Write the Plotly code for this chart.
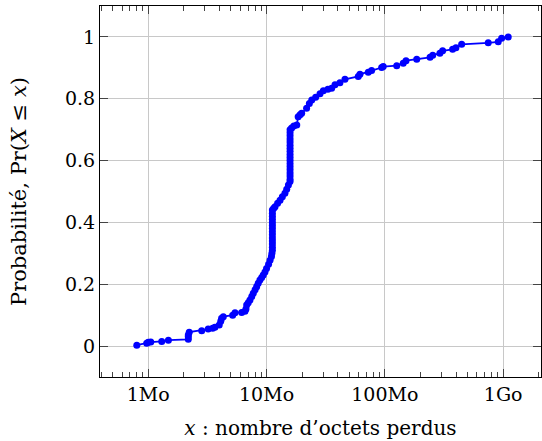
import plotly.graph_objects as go

# Data (size in Mo, cumulative probability)
size_mo = [
    0.80, 0.97, 1.00, 1.05, 1.30, 1.48, 2.18, 2.18, 2.18, 2.22, 2.83, 3.21, 3.50, 3.66, 3.98,
    4.10, 4.17, 4.31, 5.17, 5.41, 6.16, 6.57, 6.70, 6.79, 7.00, 7.24, 7.50, 7.72, 8.00,
    8.25, 8.50, 8.79, 9.10, 9.38, 9.70, 10.0, 10.4, 10.7, 11.0, 11.1,
    11.2, 11.2, 11.2, 11.2, 11.2, 11.2, 11.2, 11.2, 11.2, 11.2, 11.2, 11.2, 11.2, 11.2,
    11.5, 11.8, 12.4, 13.0, 13.6, 14.3, 14.8, 15.3, 15.8,
    15.8, 15.8, 15.8, 15.8, 15.8, 15.8, 15.8, 15.8, 15.8, 15.8, 15.8, 15.8, 15.8, 15.8, 15.8,
    15.8, 15.8,
    16.3, 17.0, 18.0, 18.5, 19.2, 19.8, 21.8, 23.0, 24.1, 26.0, 28.3, 30.2, 33.0, 35.5, 37.9,
    41.7, 46.0, 59.6, 61.6, 72.4, 77.3, 94.0, 96.9, 126, 143, 151, 186, 241, 254, 292, 308,
    374, 399, 446, 748, 909, 971, 1104,
]
prob = [
    0.003, 0.009, 0.012, 0.013, 0.015, 0.019, 0.022, 0.030, 0.036, 0.045, 0.050, 0.055, 0.058, 0.061, 0.068,
    0.080, 0.090, 0.095, 0.100, 0.108, 0.109, 0.113, 0.120, 0.133, 0.140, 0.149, 0.160, 0.171, 0.182,
    0.192, 0.203, 0.214, 0.222, 0.230, 0.240, 0.251, 0.265, 0.278, 0.290, 0.300,
    0.310, 0.320, 0.330, 0.340, 0.350, 0.360, 0.370, 0.380, 0.390, 0.400, 0.410, 0.420, 0.430, 0.440,
    0.446, 0.451, 0.462, 0.472, 0.483, 0.494, 0.507, 0.521, 0.532,
    0.540, 0.550, 0.560, 0.570, 0.580, 0.590, 0.600, 0.610, 0.620, 0.630, 0.640, 0.650, 0.660, 0.670, 0.680,
    0.690, 0.700,
    0.705, 0.712, 0.715, 0.742, 0.748, 0.753, 0.769, 0.785, 0.796, 0.805, 0.816, 0.826, 0.831, 0.834, 0.845,
    0.852, 0.863, 0.872, 0.879, 0.886, 0.891, 0.901, 0.904, 0.907, 0.915, 0.923, 0.928, 0.934, 0.941, 0.947, 0.955,
    0.960, 0.965, 0.976, 0.981, 0.984, 0.996, 1.000,
]

x_tick_vals = [1, 10, 100, 1000]
x_tick_text = ["1Mo", "10Mo", "100Mo", "1Go"]
x_minor_vals = [0.4, 0.5, 0.6, 0.7, 0.8, 0.9, 2, 3, 4, 5, 6, 7, 8, 9,
                20, 30, 40, 50, 60, 70, 80, 90, 200, 300, 400, 500, 600, 700, 800, 900, 2000]
y_tick_vals = [0, 0.2, 0.4, 0.6, 0.8, 1]
y_tick_text = ["0", "0.2", "0.4", "0.6", "0.8", "1"]

FONT = "DejaVu Serif"

fig = go.Figure()
fig.add_trace(go.Scatter(
    x=size_mo, y=prob, mode="lines+markers",
    line=dict(color="#0000ff", width=1.8),
    marker=dict(color="#0000ff", size=7, line=dict(width=0)),
    showlegend=False,
))

fig.update_layout(
    width=542, height=441,
    margin=dict(l=100, r=1, t=6, b=64),
    paper_bgcolor="white", plot_bgcolor="white",
    font=dict(family=FONT, size=19, color="black"),
)
fig.update_xaxes(
    type="log", range=[-0.408, 3.320], automargin=False,
    tickmode="array", tickvals=x_tick_vals, ticktext=x_tick_text,
    ticks="inside", ticklen=8, tickcolor="#444", tickwidth=1,
    showline=True, linecolor="black", linewidth=1, mirror="allticks",
    showgrid=True, gridcolor="#c8c8c8", gridwidth=1,
    zeroline=False,
    minor=dict(tickmode="array", tickvals=x_minor_vals, ticks="inside", ticklen=5,
               tickcolor="#444", tickwidth=1, showgrid=False),
    tickfont=dict(family=FONT, size=19),
    title=dict(text="<i>x</i> : nombre d\u2019octets perdus", font=dict(family=FONT, size=20), standoff=17),
)
fig.update_yaxes(
    range=[-0.1, 1.1], automargin=False,
    tickmode="array", tickvals=y_tick_vals, ticktext=y_tick_text,
    ticks="inside", ticklen=8, tickcolor="#444", tickwidth=1,
    showline=True, linecolor="black", linewidth=1, mirror="allticks",
    showgrid=True, gridcolor="#c8c8c8", gridwidth=1,
    zeroline=False,
    tickfont=dict(family=FONT, size=19),
    title=dict(text="Probabilité, Pr(<i>X</i> \u2264 <i>x</i>)", font=dict(family=FONT, size=21), standoff=32),
)

fig.write_html("out.html", config={"displayModeBar": False},
               post_script="document.body.style.margin='0';")
